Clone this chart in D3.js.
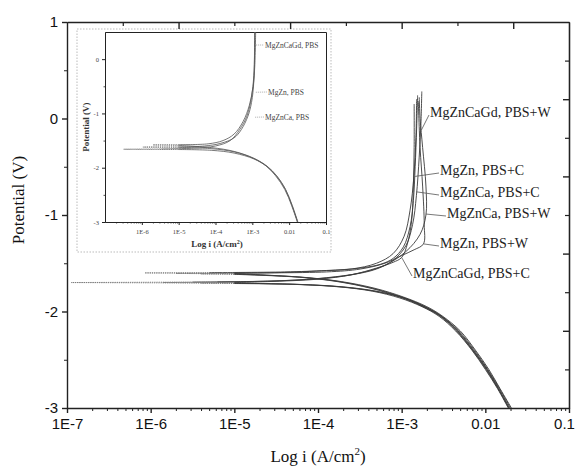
<!DOCTYPE html>
<html><head><meta charset="utf-8">
<script src="https://cdn.jsdelivr.net/npm/d3@7"></script>
<style>body{margin:0;background:#fff}</style>
</head><body>
<script>
// ---------- DATA (current density A/cm2, potential V) ----------
const xTickValues = [1e-7, 1e-6, 1e-5, 1e-4, 1e-3, 0.01, 0.1];
const xTickLabels = ["1E-7", "1E-6", "1E-5", "1E-4", "1E-3", "0.01", "0.1"];
const yTickValues = [-3, -2, -1, 0, 1];
const yTickLabels = ["-3", "-2", "-1", "0", "1"];
const insetXTickValues = [1e-6, 1e-5, 1e-4, 1e-3, 0.01, 0.1];
const insetXTickLabels = ["1E-6", "1E-5", "1E-4", "1E-3", "0.01", "0.1"];
const insetYTickValues = [-3, -2, -1, 0];
const insetYTickLabels = ["-3", "-2", "-1", "0"];

// main curves: cathodic (from -3 V) -> Ecorr tip -> anodic
const MgZnCaGd_W_i = [1.95e-2,1.45e-2,1.05e-2,7.2e-3,4.7e-3,3.0e-3,1.9e-3,1.07e-3,5.0e-4,2.0e-4,6.3e-5,1.0e-5, 1.12e-7, 3.2e-6,2.5e-5,1.0e-4,2.5e-4,5.0e-4,7.9e-4,1.12e-3,1.35e-3,1.5e-3,1.62e-3,1.7e-3,1.74e-3];
const MgZnCaGd_W_E = [-3.0,-2.8,-2.6,-2.4,-2.2,-2.05,-1.95,-1.86,-1.79,-1.745,-1.72,-1.706, -1.70, -1.695,-1.685,-1.66,-1.62,-1.56,-1.47,-1.32,-1.1,-0.8,-0.4,-0.05,0.28];

const MgZn_C_i = [2.0e-2,1.48e-2,1.07e-2,7.4e-3,4.8e-3,3.0e-3,1.9e-3,1.0e-3,4.5e-4,1.8e-4,6.3e-5,1.0e-5, 8.5e-7, 5.0e-6,4.0e-5,1.26e-4,3.2e-4,5.6e-4,7.9e-4,1.05e-3,1.26e-3,1.38e-3,1.45e-3,1.51e-3,1.55e-3];
const MgZn_C_E = [-3.0,-2.8,-2.6,-2.4,-2.2,-2.05,-1.95,-1.85,-1.76,-1.69,-1.645,-1.607, -1.60, -1.597,-1.59,-1.575,-1.55,-1.51,-1.45,-1.33,-1.12,-0.85,-0.5,-0.1,0.24];

const MgZnCa_C_i = [1.9e-2,1.42e-2,1.02e-2,7.0e-3,4.5e-3,2.9e-3,1.8e-3,9.5e-4,4.3e-4,1.7e-4,6.0e-5,1.0e-5, 4.0e-6, 1.0e-5,4.0e-5,1.0e-4,2.5e-4,5.0e-4,7.9e-4,1.07e-3,1.26e-3,1.4e-3,1.48e-3,1.51e-3];
const MgZnCa_C_E = [-3.0,-2.8,-2.6,-2.4,-2.2,-2.05,-1.95,-1.85,-1.76,-1.69,-1.645,-1.615, -1.61, -1.605,-1.595,-1.58,-1.56,-1.50,-1.40,-1.22,-0.95,-0.6,-0.2,0.2];

const MgZnCa_W_i = [1.92e-2,1.43e-2,1.04e-2,7.1e-3,4.6e-3,2.95e-3,1.85e-3,1.05e-3,4.8e-4,1.9e-4,6.0e-5,1.0e-5, 1.4e-6, 6.3e-6,4.0e-5,1.26e-4,3.2e-4,6.3e-4,1.12e-3,1.66e-3,1.95e-3,1.95e-3,1.78e-3,1.66e-3,1.62e-3];
const MgZnCa_W_E = [-3.0,-2.8,-2.6,-2.4,-2.2,-2.05,-1.95,-1.86,-1.79,-1.745,-1.72,-1.706, -1.70, -1.695,-1.68,-1.65,-1.60,-1.52,-1.38,-1.2,-1.0,-0.7,-0.3,0.0,0.22];

const MgZn_W_i = [2.05e-2,1.5e-2,1.1e-2,7.6e-3,5.0e-3,3.1e-3,2.0e-3,1.05e-3,4.8e-4,1.9e-4,6.6e-5,1.0e-5, 2.0e-6, 1.0e-5,1.26e-4,3.2e-4,6.3e-4,1.0e-3,1.41e-3,1.82e-3,1.86e-3,1.78e-3,1.66e-3,1.58e-3];
const MgZn_W_E = [-3.0,-2.8,-2.6,-2.4,-2.2,-2.05,-1.95,-1.85,-1.76,-1.69,-1.645,-1.612, -1.605, -1.60,-1.59,-1.56,-1.50,-1.42,-1.36,-1.3,-1.1,-0.7,-0.3,0.18];

const MgZnCaGd_C_i = [1.88e-2,1.4e-2,1.0e-2,6.9e-3,4.4e-3,2.8e-3,1.75e-3,9.5e-4,4.5e-4,1.8e-4,5.6e-5,1.0e-5, 4.0e-6, 1.0e-5,2.5e-5,1.0e-4,2.5e-4,5.0e-4,7.9e-4,1.0e-3,1.17e-3,1.32e-3,1.38e-3,1.41e-3,1.41e-3];
const MgZnCaGd_C_E = [-3.0,-2.8,-2.6,-2.4,-2.2,-2.05,-1.95,-1.86,-1.79,-1.745,-1.72,-1.71, -1.705, -1.70,-1.69,-1.665,-1.62,-1.55,-1.49,-1.44,-1.3,-1.05,-0.7,-0.3,0.15];

// inset curves (PBS)
const In_MgZnCaGd_i = [1.7e-2,1.2e-2,7.9e-3,4.5e-3,2.5e-3,1.12e-3,3.2e-4,7.9e-5,1.0e-5, 3.2e-7, 3.2e-6,2.5e-5,1.0e-4,2.5e-4,4.5e-4,7.1e-4,9.5e-4,1.1e-3,1.15e-3,1.17e-3];
const In_MgZnCaGd_E = [-3.0,-2.7,-2.4,-2.15,-1.98,-1.84,-1.73,-1.68,-1.665, -1.66, -1.655,-1.64,-1.60,-1.5,-1.3,-1.05,-0.7,-0.3,0.1,0.5];
const In_MgZn_i = [1.66e-2,1.17e-2,7.6e-3,4.3e-3,2.4e-3,1.05e-3,3.2e-4,7.9e-5,1.0e-5, 2.0e-6, 1.0e-5,6.3e-5,1.6e-4,3.2e-4,5.6e-4,8.3e-4,1.05e-3,1.17e-3,1.23e-3];
const In_MgZn_E = [-3.0,-2.7,-2.4,-2.15,-1.97,-1.82,-1.7,-1.63,-1.59, -1.58, -1.575,-1.56,-1.5,-1.38,-1.15,-0.85,-0.5,-0.1,0.5];
const In_MgZnCa_i = [1.72e-2,1.22e-2,8.0e-3,4.6e-3,2.5e-3,1.1e-3,3.3e-4,8.0e-5,1.0e-5, 1.07e-6, 1.0e-5,5.0e-5,1.4e-4,3.2e-4,5.0e-4,7.6e-4,9.5e-4,1.1e-3,1.15e-3];
const In_MgZnCa_E = [-3.0,-2.7,-2.4,-2.15,-1.97,-1.83,-1.71,-1.65,-1.625, -1.62, -1.615,-1.6,-1.55,-1.45,-1.3,-1.05,-0.8,-0.4,0.5];

const mainLabels = ["MgZnCaGd, PBS+W","MgZn, PBS+C","MgZnCa, PBS+C","MgZnCa, PBS+W","MgZn, PBS+W","MgZnCaGd, PBS+C"];
const mainLeaderI = [1.72e-3, 1.45e-3, 1.5e-3, 1.95e-3, 1.84e-3, 1.0e-3];
const mainLeaderE = [-0.12, -0.6, -0.76, -0.99, -1.3, -1.44];
const insetLabels = ["MgZnCaGd, PBS","MgZn, PBS","MgZnCa, PBS"];
const insetLeaderI = [1.17e-3, 1.17e-3, 1.12e-3];
const insetLeaderE = [0.26, -0.61, -1.07];

// ---------- LAYOUT ----------
const W = 578, H = 470;
const M = {l: 67, r: 569, t: 22, b: 408};
const mainLabelPos = [[430,112],[440,170],[440,192],[447,213],[440,243],[413,273]];
const INS = {l: 105, r: 326, t: 32, b: 222};
const insetLabelPos = [[265,45],[268,92],[265,117]];

const svg = d3.select("body").append("svg").attr("width", W).attr("height", H)
  .style("background", "#fff");

const x = d3.scaleLog().domain([1e-7, 0.1]).range([M.l, M.r]);
const y = d3.scaleLinear().domain([-3, 1]).range([M.b, M.t]);
const xi = d3.scaleLog().domain([1e-7, 0.1]).range([INS.l, INS.r]);
const yi = d3.scaleLinear().domain([-3, 0.5]).range([INS.b, INS.t]);

function minorLog(lo, hi) {
  const out = [];
  for (let e = lo; e < hi; e++) for (let m = 2; m <= 9; m++) out.push(m * Math.pow(10, e));
  return out;
}

function styleAxis(g, w) {
  g.selectAll(".domain").attr("stroke", "#222").attr("stroke-width", w);
  g.selectAll(".tick line").attr("stroke", "#222").attr("stroke-width", w);
}

// ---------- INSET ----------
const inset = svg.append("g");
inset.append("rect").attr("x", 77).attr("y", 29).attr("width", 254).attr("height", 223)
  .attr("fill", "none").attr("stroke", "#bbb").attr("stroke-width", 1).attr("stroke-dasharray", "1.5,1.5");

const ixb = inset.append("g").attr("transform", `translate(0,${INS.b})`)
  .call(d3.axisBottom(xi).tickValues(insetXTickValues).tickFormat((d,k)=>insetXTickLabels[k]).tickSize(3).tickSizeOuter(0));
ixb.selectAll("text").attr("font-family", "Liberation Serif, serif").attr("font-size", 6.5).attr("fill", "#444").attr("dy", "0.9em");
styleAxis(ixb, 1);
const ixbm = inset.append("g").attr("transform", `translate(0,${INS.b})`)
  .call(d3.axisBottom(xi).tickValues(minorLog(-7, -1)).tickFormat("").tickSize(1.5).tickSizeOuter(0));
styleAxis(ixbm, 0.8);
const ixt = inset.append("g").attr("transform", `translate(0,${INS.t})`)
  .call(d3.axisBottom(xi).tickValues([]).tickSizeOuter(0));
styleAxis(ixt, 1);
const iyl = inset.append("g").attr("transform", `translate(${INS.l},0)`)
  .call(d3.axisLeft(yi).tickValues(insetYTickValues).tickFormat((d,k)=>insetYTickLabels[k]).tickSize(3).tickSizeOuter(0));
iyl.selectAll("text").attr("font-family", "Liberation Serif, serif").attr("font-size", 6.5).attr("fill", "#444");
styleAxis(iyl, 1);
const iylm = inset.append("g").attr("transform", `translate(${INS.l},0)`)
  .call(d3.axisLeft(yi).tickValues([-2.5,-1.5,-0.5]).tickFormat("").tickSize(1.5).tickSizeOuter(0));
styleAxis(iylm, 0.8);
const iyr = inset.append("g").attr("transform", `translate(${INS.r},0)`)
  .call(d3.axisLeft(yi).tickValues([]).tickSizeOuter(0));
styleAxis(iyr, 1);

inset.append("text").attr("transform", `translate(89,${(INS.t+INS.b)/2}) rotate(-90)`)
  .attr("text-anchor", "middle").attr("font-family", "Liberation Serif, serif").attr("font-weight", "bold")
  .attr("font-size", 9).attr("fill", "#333").text("Potential (V)");
const ixTitle = inset.append("text").attr("x", 217).attr("y", 247).attr("text-anchor", "middle")
  .attr("font-family", "Liberation Serif, serif").attr("font-weight", "bold").attr("font-size", 9).attr("fill", "#333");
ixTitle.append("tspan").text("Log i (A/cm");
ixTitle.append("tspan").attr("font-size", 6).attr("dy", -3).text("2");
ixTitle.append("tspan").attr("dy", 3).text(")");

// ---------- curve drawing ----------
function runs(iArr, EArr, thr) {
  const pts = iArr.map((v, k) => [v, EArr[k]]);
  const out = []; let cur = null;
  for (let k = 0; k < pts.length - 1; k++) {
    const type = (pts[k][0] < thr && pts[k+1][0] < thr) ? "dot" : "solid";
    if (!cur || cur.type !== type) { cur = {type, pts: [pts[k]]}; out.push(cur); }
    cur.pts.push(pts[k+1]);
  }
  return out;
}
function drawCurve(g, xs, ys, iArr, EArr, color, w) {
  const line = d3.line().x(d => xs(d[0])).y(d => ys(d[1]));
  runs(iArr, EArr, 1.1e-5).forEach(r => {
    g.append("path").attr("d", line.curve(r.type === "solid" ? d3.curveCatmullRom.alpha(0.5) : d3.curveLinear)(r.pts))
      .attr("fill", "none").attr("stroke", r.type === "solid" ? color : "#777")
      .attr("stroke-width", r.type === "solid" ? w : 0.9)
      .attr("stroke-dasharray", r.type === "solid" ? null : "1.2,1");
  });
}

const insetCurves = [[In_MgZnCaGd_i, In_MgZnCaGd_E],[In_MgZn_i, In_MgZn_E],[In_MgZnCa_i, In_MgZnCa_E]];
const ic = inset.append("g");
insetCurves.forEach(c => drawCurve(ic, xi, yi, c[0], c[1], "#555", 0.8));
insetLabels.forEach((t, k) => {
  const p = insetLabelPos[k];
  inset.append("line").attr("x1", xi(insetLeaderI[k]) + 1).attr("y1", yi(insetLeaderE[k]))
    .attr("x2", p[0] - 1).attr("y2", p[1]).attr("stroke", "#888").attr("stroke-width", 0.7).attr("stroke-dasharray", "1,1");
  inset.append("text").attr("x", p[0]).attr("y", p[1]).attr("dy", "0.35em")
    .attr("font-family", "Liberation Serif, serif").attr("font-size", 7.5).attr("fill", "#444").text(t);
});

// ---------- MAIN AXES ----------
const xb = svg.append("g").attr("transform", `translate(0,${M.b})`)
  .call(d3.axisBottom(x).tickValues(xTickValues).tickFormat((d,k)=>xTickLabels[k]).tickSize(5).tickSizeOuter(0).tickPadding(5));
xb.selectAll("text").attr("font-family", "Liberation Sans, Arial, sans-serif").attr("font-size", 15).attr("fill", "#111");
xb.selectAll(".tick:last-of-type text").attr("dx", -5);
styleAxis(xb, 1.4);
const xbm = svg.append("g").attr("transform", `translate(0,${M.b})`)
  .call(d3.axisBottom(x).tickValues(minorLog(-7, -1)).tickFormat("").tickSize(3).tickSizeOuter(0));
styleAxis(xbm, 1);

const yl = svg.append("g").attr("transform", `translate(${M.l},0)`)
  .call(d3.axisLeft(y).tickValues(yTickValues).tickFormat((d,k)=>yTickLabels[k]).tickSize(5).tickSizeOuter(0).tickPadding(4));
yl.selectAll("text").attr("font-family", "Liberation Sans, Arial, sans-serif").attr("font-size", 15).attr("fill", "#111");
styleAxis(yl, 1.4);
const ylm = svg.append("g").attr("transform", `translate(${M.l},0)`)
  .call(d3.axisLeft(y).tickValues([-2.5,-1.5,-0.5,0.5]).tickFormat("").tickSize(3).tickSizeOuter(0));
styleAxis(ylm, 1);

// top & right mirror axes with their own evenly spaced inward ticks
const xTop = d3.scaleLinear().domain([0, 9]).range([M.l, M.r]);
const xt1 = svg.append("g").attr("transform", `translate(0,${M.t})`)
  .call(d3.axisBottom(xTop).tickValues([2,4,6,8]).tickFormat("").tickSize(7).tickSizeOuter(0));
styleAxis(xt1, 1.4);
const xt2 = svg.append("g").attr("transform", `translate(0,${M.t})`)
  .call(d3.axisBottom(xTop).tickValues([1,3,5,7]).tickFormat("").tickSize(4).tickSizeOuter(0));
styleAxis(xt2, 1.2);
const yRight = d3.scaleLinear().domain([0, 10]).range([M.t, M.b]);
const yr1 = svg.append("g").attr("transform", `translate(${M.r},0)`)
  .call(d3.axisLeft(yRight).tickValues([2,4,6,8]).tickFormat("").tickSize(6).tickSizeOuter(0));
styleAxis(yr1, 1.4);
const yr2 = svg.append("g").attr("transform", `translate(${M.r},0)`)
  .call(d3.axisLeft(yRight).tickValues([1,3,5,7,9]).tickFormat("").tickSize(4).tickSizeOuter(0));
styleAxis(yr2, 1.2);

// titles
svg.append("text").attr("transform", `translate(24,200) rotate(-90)`).attr("text-anchor", "middle")
  .attr("font-family", "Liberation Serif, serif").attr("font-size", 17).attr("fill", "#111").text("Potential (V)");
const xTitle = svg.append("text").attr("x", 318).attr("y", 462).attr("text-anchor", "middle")
  .attr("font-family", "Liberation Serif, serif").attr("font-size", 17).attr("fill", "#111");
xTitle.append("tspan").text("Log i (A/cm");
xTitle.append("tspan").attr("font-size", 11).attr("dy", -7).text("2");
xTitle.append("tspan").attr("dy", 7).text(")");

// ---------- MAIN CURVES ----------
const mainCurves = [
  [MgZnCaGd_W_i, MgZnCaGd_W_E], [MgZn_C_i, MgZn_C_E], [MgZnCa_C_i, MgZnCa_C_E],
  [MgZnCa_W_i, MgZnCa_W_E], [MgZn_W_i, MgZn_W_E], [MgZnCaGd_C_i, MgZnCaGd_C_E]
];
const mc = svg.append("g");
mainCurves.forEach(c => drawCurve(mc, x, y, c[0], c[1], "#3a3a3a", 0.9));

mainLabels.forEach((t, k) => {
  const p = mainLabelPos[k];
  svg.append("line").attr("x1", x(mainLeaderI[k])).attr("y1", y(mainLeaderE[k]))
    .attr("x2", p[0] - 1).attr("y2", p[1] + 3).attr("stroke", "#555").attr("stroke-width", 0.8);
  svg.append("text").attr("x", p[0]).attr("y", p[1]).attr("dy", "0.35em")
    .attr("font-family", "Liberation Serif, serif").attr("font-size", 14).attr("fill", "#222").text(t);
});
</script>
</body></html>
